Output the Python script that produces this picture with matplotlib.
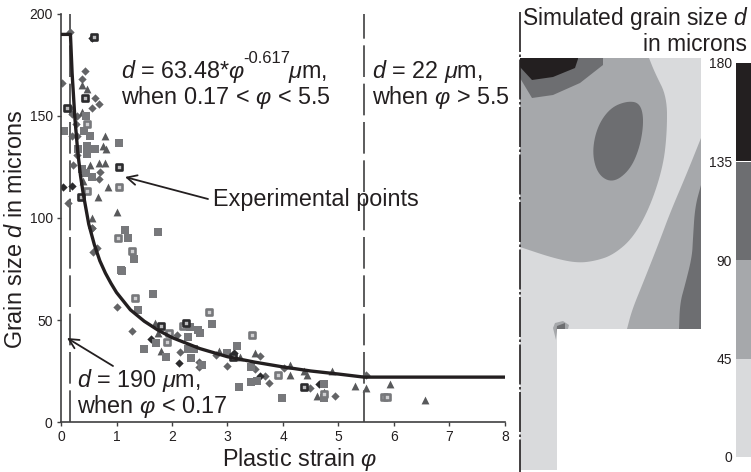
import numpy as np
import matplotlib
matplotlib.use('Agg')
import matplotlib.pyplot as plt
from matplotlib.patches import Polygon

plt.rcParams['font.family'] = ['Liberation Sans', 'DejaVu Sans']
plt.rcParams['mathtext.fontset'] = 'custom'
plt.rcParams['mathtext.rm'] = 'Liberation Sans'
plt.rcParams['mathtext.it'] = 'Liberation Sans:italic'
plt.rcParams['mathtext.fallback'] = 'cm'

# fitted curve
curve_phi = [0, .17, .2, .25, .3, .35, .4, .5, .6, .7, .8, .9, 1, 1.25, 1.5, 1.75, 2, 2.5, 3, 3.5, 4, 4.5, 5, 5.46, 8]
curve_d = [190, 190, 171, 149, 133, 121, 112, 97, 87, 79, 73, 68, 63.5, 55, 49.4, 45, 41.4, 36, 32, 29.3, 27, 25, 23.5, 22, 22]

# experimental points
dia_phi = [.16, .44, .02, .37, .62, .68, .56, .16, .29, .19, .27, .19, .29, .28, .22, .7, .68, .12, .55, .55, .64, .57,
           1.0, 1.28, 2.09, 2.14, 2.49, 2.49, 2.79, 3.0, 3.58, 3.49, 3.67, 3.74, 4.02, 4.49, 4.93, 5.49]
dia_d = [191, 172, 166, 168, 159, 156, 154, 154, 150, 151, 146, 140, 140, 131, 126, 122.5, 119, 107.5, 95, 95, 85.4, 83.5,
         56.5, 44.6, 42.6, 34.5, 29.6, 26.8, 32.8, 27.6, 32.5, 26, 22.7, 19.1, 26.5, 16.5, 12.6, 23]
dark_dia_phi = [.55, .04, .19, 1.63, 2.12, 3.12, 3.59, 4.64]
dark_dia_d = [188, 115, 115.5, 40.7, 28.9, 33.7, 22.7, 18.6]

tri_phi = [.37, .47, .37, .79, .76, .81, .68, .79, .52, .4, .85, .67, 1.0, .56,
           1.69, 1.75, 1.8, 2.84, 3.23, 3.5, 4.12, 4.12, 4.37, 4.43, 4.89, 4.62, 4.74, 5.3, 5.49, 5.93, 6.56]
tri_d = [165, 163, 152, 140, 135.5, 134, 127, 127, 126, 118, 115, 110.5, 103, 100,
         48.7, 43.5, 35, 34.8, 32, 34, 28, 23.2, 25, 23.2, 25, 12.6, 14.5, 17.6, 16.5, 18.6, 11]

sq_phi = [.05, .45, .42, .52, .46, .61, .47, 1.05, .31, .37, .45, .56, 1.15, 1.74, 1.2, 1.31, 1.08, 1.1,
          1.65, 1.38, 1.49, 1.71, 1.9, 2.33, 2.47, 2.5, 2.29, 2.29, 2.39, 2.35, 2.72, 2.54, 2.99, 3.18, 3.2, 3.42, 3.54, 3.43, 3.99, 4.74, 4.74]
sq_d = [142.5, 150, 142.5, 140, 135.5, 134, 131.5, 137, 134, 124, 122, 120, 94, 93, 90, 79.9, 74.5, 74,
        62.6, 54.9, 36, 38.6, 32, 46.7, 45, 43.6, 41.5, 36, 35.8, 31.5, 47.9, 28, 34, 37.4, 17.3, 19.4, 20, 27, 11.6, 18.8, 11.6]

hollow_phi = [.46, 1.05, .46, 1.03, 1.28, 1.34, 2.67, 1.94, 2.2, 1.91, 3.45, 3.91, 5.82, 5.87, 4.74]
hollow_d = [146, 115, 113, 90, 83.8, 60.6, 54, 43.8, 47, 39.2, 42.5, 22.9, 12.1, 12.4, 13.5]
dark_hollow_phi = [.59, .43, .11, 1.05, .36, 1.8, 2.25, 3.1, 4.37]
dark_hollow_d = [188.5, 159, 154, 125, 110.5, 46.9, 48.7, 32, 17]

x_ticks = [0, 1, 2, 3, 4, 5, 6, 7, 8]
y_ticks = [0, 50, 100, 150, 200]
limit_low = 0.17
limit_high = 5.46

# legend of the simulated map
levels = [0, 45, 90, 135, 180]
level_colors = ['#d9dadc', '#a6a8ab', '#6d6e71', '#231f20']

# contour outlines of the map, in picture pixels
domain = [(520, 58), (701, 58), (701, 329), (557, 329), (557, 470), (520, 470)]
# these three: last point is a sharp corner, the rest is a soft curve
mid_main = [(649, 58), (655, 73), (667, 97), (667, 133), (663, 167), (650, 207), (633, 238), (613, 255),
            (595, 261), (577, 263), (553, 258), (520, 247), (520, 58)]
mid_right = [(701, 138), (687, 173), (670, 213), (660, 240), (643, 283), (632, 310), (627, 329), (701, 329)]
dark_right = [(701, 185), (695, 207), (693, 238), (692, 257), (685, 285), (680, 303), (679, 329), (701, 329)]
dark_oval = [(627, 101), (640, 103), (644, 120), (640, 147), (630, 170), (613, 183), (598, 175), (592, 153), (597, 127), (610, 108)]
dark_top = [(520, 58), (520, 78), (532, 98), (553, 95), (580, 83), (603, 65), (603, 58)]
black_top = [(520, 58), (520, 67), (532, 80), (553, 77), (575, 68), (578, 59), (578, 58)]
spot_mid = [(553, 328), (555, 323), (563, 321), (569, 325), (568, 329), (557, 329), (556, 340)]
spot_dark = [(556, 336), (557, 326), (565, 323), (565, 329), (557, 329)]


def smooth(points, n=3):
    # corner cutting, closed outline
    p = np.array(points, dtype=float)
    for _ in range(n):
        q = np.roll(p, -1, axis=0)
        p = np.column_stack([0.75 * p + 0.25 * q, 0.25 * p + 0.75 * q]).reshape(-1, 2)
    return p


def smooth_open(points, n=3):
    # same, but the two ends stay where they are
    p = np.array(points, dtype=float)
    for _ in range(n):
        q = np.column_stack([0.75 * p[:-1] + 0.25 * p[1:], 0.25 * p[:-1] + 0.75 * p[1:]]).reshape(-1, 2)
        p = np.vstack([p[0], q, p[-1]])
    return p


W, H = 751, 472
fig = plt.figure(figsize=(W / 100, H / 100), dpi=100)

# whole figure overlay in pixels, for the map
over = fig.add_axes([0, 0, 1, 1])
over.set_xlim(0, W)
over.set_ylim(H, 0)
over.axis('off')

over.add_patch(Polygon(domain, fc=level_colors[0], ec='none'))
for pts, col in [(mid_main, level_colors[1]), (mid_right, level_colors[1]), (dark_right, level_colors[2])]:
    outline = np.vstack([smooth_open(pts[:-1]), pts[-1]])
    over.add_patch(Polygon(outline, fc=col, ec='none'))
over.add_patch(Polygon(smooth(dark_oval), fc=level_colors[2], ec='none'))
for pts, col in [(dark_top, level_colors[2]), (black_top, level_colors[3]),
                 (spot_mid, level_colors[1]), (spot_dark, level_colors[2])]:
    over.add_patch(Polygon(pts, fc=col, ec='none'))
over.plot([519.5, 519.5], [12, 472], color='#231f20', lw=1.2, dashes=(24, 1.5, 1.5, 1.5))

txt = '#231f20'
fs = 16.8
over.text(522, 25, r'Simulated grain size $d$', fontsize=16.4, color=txt, ha='left', va='baseline')
over.text(747, 51, 'in microns', fontsize=16.4, color=txt, ha='right', va='baseline')

# main plot
ax = fig.add_axes([61 / W, (H - 422) / H, 444 / W, 408 / H])
ax.patch.set_alpha(0)
ax.set_xlim(0, 8)
ax.set_ylim(0, 200)
ax.spines['top'].set_visible(False)
ax.spines['right'].set_visible(False)
for s in ['left', 'bottom']:
    ax.spines[s].set_color('#404041')
    ax.spines[s].set_linewidth(1.2)
ax.set_xticks(x_ticks)
ax.set_yticks(y_ticks)
ax.tick_params(length=3, width=1, color='#404041', labelcolor=txt, labelsize=10, pad=3)

for x in [limit_low, limit_high]:
    ax.plot([x, x], [0, 200], color='#404041', lw=1.2, dashes=(19, 4), zorder=1)

ax.scatter(dia_phi, dia_d, marker='D', s=18, color='#636466', lw=0, zorder=2)
ax.scatter(dark_dia_phi, dark_dia_d, marker='D', s=18, color='#2b2b2d', lw=0, zorder=2)
ax.scatter(tri_phi, tri_d, marker='^', s=32, color='#58595b', lw=0, zorder=2)
ax.scatter(sq_phi, sq_d, marker='s', s=32, color='#77787b', lw=0, zorder=2)
ax.scatter(hollow_phi, hollow_d, marker='s', s=18, facecolor='#d0d0d2', edgecolor='#77787b', lw=1.9, zorder=2)
ax.scatter(dark_hollow_phi, dark_hollow_d, marker='s', s=15, facecolor='#bbbbbd', edgecolor='#2b2b2d', lw=1.9, zorder=2)
ax.plot(curve_phi, curve_d, color='#231f20', lw=2.4, zorder=3, solid_joinstyle='round')

# labels and notes go on the overlay, pixel placed
top = fig.add_axes([0, 0, 1, 1])
top.set_xlim(0, W)
top.set_ylim(H, 0)
top.axis('off')
top.patch.set_alpha(0)

top.text(222, 466, r'Plastic strain $\varphi$', fontsize=fs, color=txt, va='baseline')
top.text(16, 230, r'Grain size $d$ in microns', fontsize=fs, color=txt, rotation=90, ha='center', va='center')

top.text(121, 78, r'$d$ = 63.48*$\varphi$', fontsize=fs, color=txt, va='baseline')
top.text(243, 63, '-0.617', fontsize=12, color=txt, va='baseline')
top.text(288, 78, r'$\mu$m,', fontsize=fs, color=txt, va='baseline')
top.text(121, 104, r'when 0.17 < $\varphi$ < 5.5', fontsize=fs, color=txt, va='baseline')
top.text(372, 78, r'$d$ = 22 $\mu$m,', fontsize=fs, color=txt, va='baseline')
top.text(372, 104, r'when $\varphi$ > 5.5', fontsize=fs, color=txt, va='baseline')
top.text(213, 206, 'Experimental points', fontsize=fs, color=txt, va='baseline')
top.text(77, 387, r'$d$ = 190 $\mu$m,', fontsize=fs, color=txt, va='baseline')
top.text(77, 413, r'when $\varphi$ < 0.17', fontsize=fs, color=txt, va='baseline')

arrow = dict(arrowstyle='->,head_length=0.7,head_width=0.35', color='#231f20', lw=1.3, shrinkA=0, shrinkB=0)
top.annotate('', xy=(125, 177), xytext=(208, 199), arrowprops=arrow)
top.annotate('', xy=(67, 338), xytext=(113, 366), arrowprops=arrow)

# colour legend
cb = fig.add_axes([736 / W, (H - 457) / H, 15 / W, 394 / H])
cb.bar(0, np.diff(levels), bottom=levels[:-1], width=1, color=level_colors, align='edge')
cb.set_xlim(0, 1)
cb.set_ylim(levels[0], levels[-1])
cb.set_xticks([])
cb.set_yticks(levels)
cb.tick_params(length=0, labelsize=10, labelcolor=txt, pad=3)
for s in cb.spines.values():
    s.set_visible(False)

fig.savefig('out.png', dpi=100)
